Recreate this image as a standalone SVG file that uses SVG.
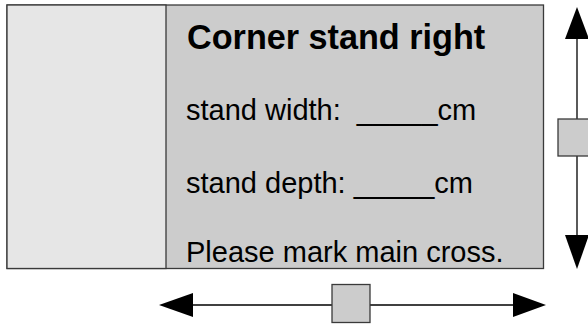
<svg xmlns="http://www.w3.org/2000/svg" width="588" height="324" viewBox="0 0 588 324">
<style>
.t{font-family:"Liberation Sans",Arial,sans-serif;fill:#000;font-size:29px}
.b{font-weight:bold;font-size:34.2px}
.box{stroke:#3a3a3a;stroke-width:1.3}
.ln{stroke:#000;stroke-width:1.3;fill:none}
.hd{fill:#000}
.knob{fill:#cccccc;stroke:#3a3a3a;stroke-width:1.3}
</style>
<rect width="588" height="324" fill="#fff"/>
<g id="stand">
<rect class="box" x="7" y="5" width="536.5" height="263.5" fill="#cccccc"/>
<rect class="box" x="7" y="5" width="159" height="263.5" fill="#e6e6e6"/>
<text class="t b" x="187" y="49">Corner stand right</text>
<text class="t" x="186" y="120" xml:space="preserve">stand width:  _____cm</text>
<text class="t" x="186" y="193" xml:space="preserve">stand depth: _____cm</text>
<text class="t" x="186" y="262">Please mark main cross.</text>
</g>
<g id="connectors">
<line class="ln" x1="577" y1="38" x2="577" y2="236"/>
<polygon class="hd" points="577,7 565,39 589,39"/>
<polygon class="hd" points="565,235 589,235 577,269"/>
<line class="ln" x1="192" y1="305" x2="514" y2="305"/>
<polygon class="hd" points="159,305 193,293 193,317"/>
<polygon class="hd" points="546,305 513,293 513,317"/>
</g>
<g id="knob-vertical">
<rect class="knob" x="558" y="119" width="38" height="37"/>
</g>
<g id="knob-horizontal">
<rect class="knob" x="332" y="284.5" width="38" height="38"/>
</g>
</svg>
